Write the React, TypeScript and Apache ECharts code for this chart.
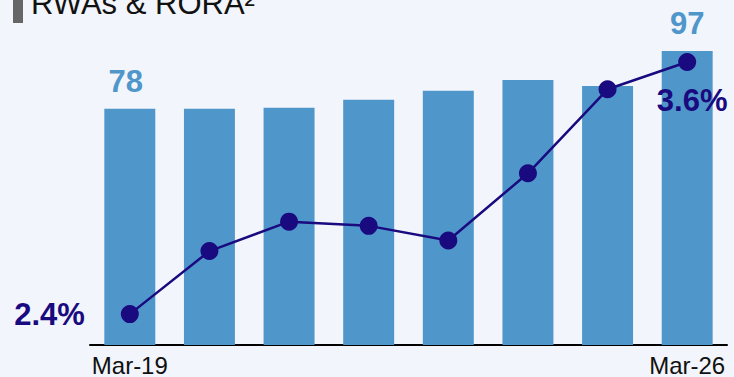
import React, { useEffect, useRef } from "react";
import * as echarts from "echarts";

const titleText = "RWAs & RORA²";
const categories = ["Mar-19", "Mar-20", "Mar-21", "Mar-22", "Mar-23", "Mar-24", "Mar-25", "Mar-26"];
const rwaValues = [78, 78, 78.3, 80.9, 83.9, 87.5, 85.5, 97];
const roraValues = [2.4, 2.7, 2.84, 2.82, 2.75, 3.07, 3.47, 3.6];

const BAR = "#4f96ca";
const NAVY = "#1a0a80";
const FONT = "Arial, 'Liberation Sans', sans-serif";

export default function App() {
  const ref = useRef<HTMLDivElement>(null);
  useEffect(() => {
    document.body.style.margin = "0";
    const chart = echarts.init(ref.current!, null, { renderer: "svg" });
    const last = categories.length - 1;
    chart.setOption({
      animation: false,
      backgroundColor: "#f2f5fb",
      textStyle: { fontFamily: FONT },
      graphic: [
        { type: "rect", shape: { x: 13, y: -5, width: 10, height: 28 }, style: { fill: "#666666" } },
        {
          type: "text",
          x: 31,
          y: -12,
          style: { text: titleText, fontSize: 31, fontFamily: FONT, fill: "#111111" },
        },
      ],
      grid: { left: 90, right: 7, top: 42, bottom: 31 },
      xAxis: {
        type: "category",
        data: categories,
        axisLine: { lineStyle: { color: "#000", width: 2 } },
        axisTick: { show: false },
        axisLabel: {
          interval: (i: number) => i === 0 || i === last,
          fontSize: 24,
          color: "#111",
          fontFamily: FONT,
          margin: 8,
        },
      },
      yAxis: [
        { type: "value", min: 0, max: 100, show: false },
        { type: "value", min: 2.253, max: 3.695, show: false },
      ],
      series: [
        {
          type: "bar",
          data: rwaValues.map((v, i) => ({
            value: v,
            label: i === 0 ? { offset: [-4, 0] } : {},
          })),
          barWidth: "64%",
          itemStyle: { color: BAR },
          label: {
            show: true,
            position: "top",
            distance: 12,
            fontSize: 31,
            fontWeight: "bold",
            color: BAR,
            fontFamily: FONT,
            formatter: (p: any) => (p.dataIndex === 0 || p.dataIndex === last ? String(p.value) : ""),
          },
        },
        {
          type: "line",
          yAxisIndex: 1,
          data: roraValues.map((v, i) => ({
            value: v,
            label:
              i === 0
                ? { show: true, position: "left", distance: 36 }
                : i === last
                ? { show: true, position: "bottom", distance: 14, offset: [5, 0] }
                : { show: false },
          })),
          symbol: "circle",
          symbolSize: 18,
          lineStyle: { color: NAVY, width: 2.5 },
          itemStyle: { color: NAVY },
          label: {
            fontSize: 31,
            fontWeight: "bold",
            color: NAVY,
            fontFamily: FONT,
            formatter: (p: any) => `${Number(p.value).toFixed(1)}%`,
          },
        },
      ],
    });
    return () => chart.dispose();
  }, []);
  return <div ref={ref} style={{ width: 734, height: 377, position: "absolute", left: 0, top: 0 }} />;
}
